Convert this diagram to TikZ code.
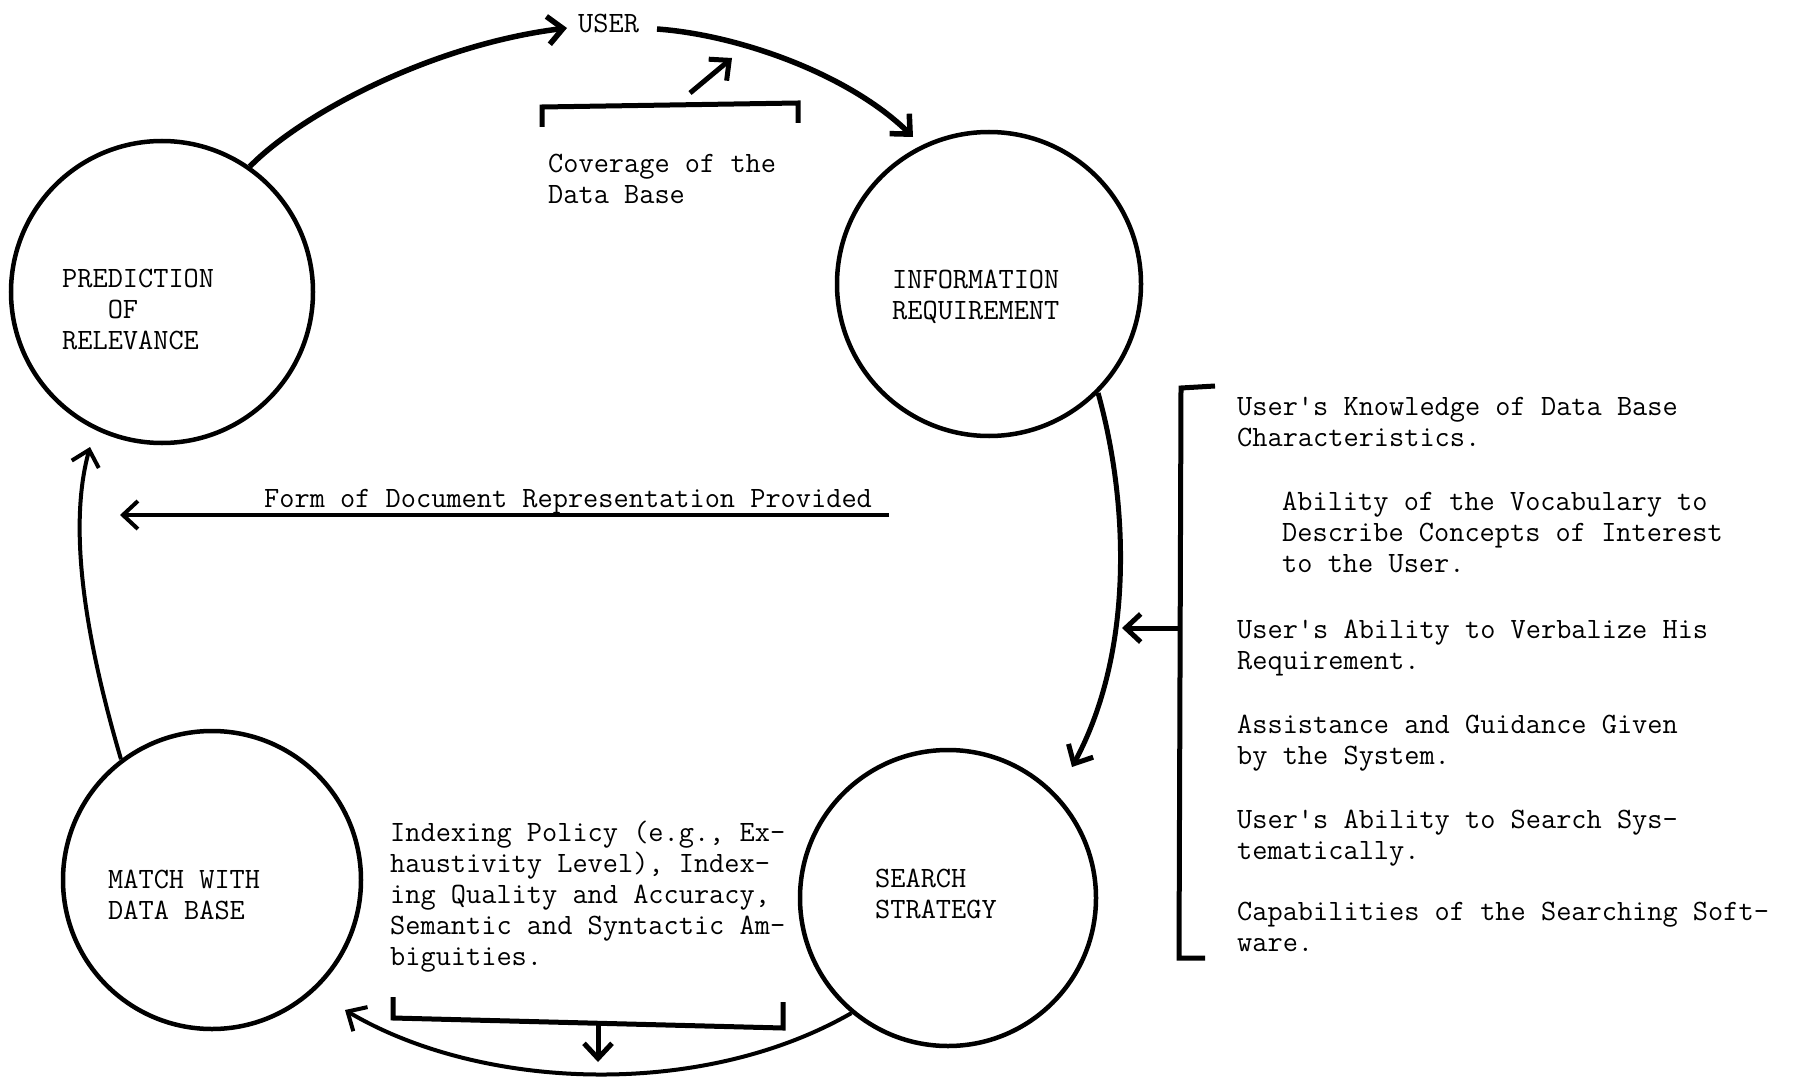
\documentclass[tikz,border=0pt]{standalone}
\usetikzlibrary{arrows.meta}
\newcommand{\mlines}[1]{\begin{tabular}[t]{@{}l@{}}#1\end{tabular}}
\tikzset{
  bubble/.style={circle, draw, line width=4.5pt, inner sep=0pt, minimum size=#1},
  txt/.style={inner sep=0pt, anchor=base west, font=\ttfamily\fontsize{29.5}{31}\selectfont},
  flow/.style={line width=5pt, -{Straight Barb[length=15pt,width=28pt]}},
  plain/.style={line width=5pt},
}
\begin{document}
\begin{tikzpicture}[x=1pt,y=-1pt]
\useasboundingbox (0,0) rectangle (1793,1078);
% circles
\node[bubble=302pt] (pred) at (162,292) {};
\node[bubble=304pt] (info) at (989,284) {};
\node[bubble=298pt] (match) at (212,880) {};
\node[bubble=296pt] (search) at (948,898) {};
% circle labels
\node[txt] (predl) at (62,287) {\mlines{PREDICTION\\\hphantom{PRE}OF\\RELEVANCE}};
\node[txt] (infol) at (892,288) {\mlines{INFORMATION\\REQUIREMENT}};
\node[txt] (matchl) at (108,888) {\mlines{MATCH WITH\\DATA BASE}};
\node[txt] (searchl) at (875,887) {\mlines{SEARCH\\STRATEGY}};
% other texts
\node[txt] (user) at (578,33) {USER};
\node[txt] (cov) at (548,173) {\mlines{Coverage of the\\Data Base}};
\node[txt] (form) at (264,507) {Form of Document Representation Provided};
\node[txt] (idx) at (390,841) {\mlines{Indexing Policy (e.g., Ex-\\haustivity Level), Index-\\ing Quality and Accuracy,\\Semantic and Syntactic Am-\\biguities.}};
\node[txt] (f1) at (1237,415) {\mlines{User's Knowledge of Data Base\\Characteristics.}};
\node[txt] (f2) at (1282,510) {\mlines{Ability of the Vocabulary to\\Describe Concepts of Interest\\to the User.}};
\node[txt] (f3) at (1237,638) {\mlines{User's Ability to Verbalize His\\Requirement.}};
\node[txt] (f4) at (1237,733) {\mlines{Assistance and Guidance Given\\by the System.}};
\node[txt] (f5) at (1237,828) {\mlines{User's Ability to Search Sys-\\tematically.}};
\node[txt] (f6) at (1237,920) {\mlines{Capabilities of the Searching Soft-\\ware.}};
% connector end points
\coordinate (userin) at (567,28);
\coordinate (userout) at (657,29);
\coordinate (infoin) at (913,137);
\coordinate (searchin) at (1072,767);
\coordinate (matchin) at (345,1010);
\coordinate (predin) at (90,447);
\coordinate (formstart) at (889,515);
\coordinate (formend) at (120,515);
% main cycle
\draw[flow, line width=5.5pt] (pred.55) .. controls (300,115) and (430,45) .. (userin);
\draw[flow, line width=5.5pt] (userout) .. controls (740,35) and (850,75) .. (infoin);
\draw[flow] (info.-45) .. controls (1128,500) and (1135,650) .. (searchin);
\draw[flow, line width=4pt] (search.230) .. controls (700,1100) and (480,1090) .. (matchin);
\draw[flow, line width=4pt] (match.127) .. controls (80,620) and (70,520) .. (predin);
\draw[flow, line width=4pt] (formstart) -- (formend);
% top bracket
\coordinate (tb1) at (542,127);
\coordinate (tb2) at (542,107);
\coordinate (tb3) at (798,103);
\coordinate (tb4) at (798,123);
\draw[plain] (tb1) -- (tb2) -- (tb3) -- (tb4);
\coordinate (tba) at (690,93);
\coordinate (tbb) at (732,58);
\draw[flow] (tba) -- (tbb);
% right bracket
\coordinate (rb1) at (1215,386);
\coordinate (rb2) at (1181,388);
\coordinate (rb3) at (1179,958);
\coordinate (rb4) at (1205,958);
\draw[plain] (rb1) -- (rb2) -- (rb3) -- (rb4);
\coordinate (rbmid) at (1180,628);
\coordinate (rbtip) at (1122,628);
\draw[flow] (rbmid) -- (rbtip);
% bottom bracket
\coordinate (bb1) at (393,997);
\coordinate (bb2) at (393,1018);
\coordinate (bb3) at (783,1028);
\coordinate (bb4) at (783,1002);
\draw[plain] (bb1) -- (bb2) -- (bb3) -- (bb4);
\coordinate (bbmid) at (598,1024);
\coordinate (bbtip) at (598,1062);
\draw[flow] (bbmid) -- (bbtip);
\end{tikzpicture}
\end{document}
